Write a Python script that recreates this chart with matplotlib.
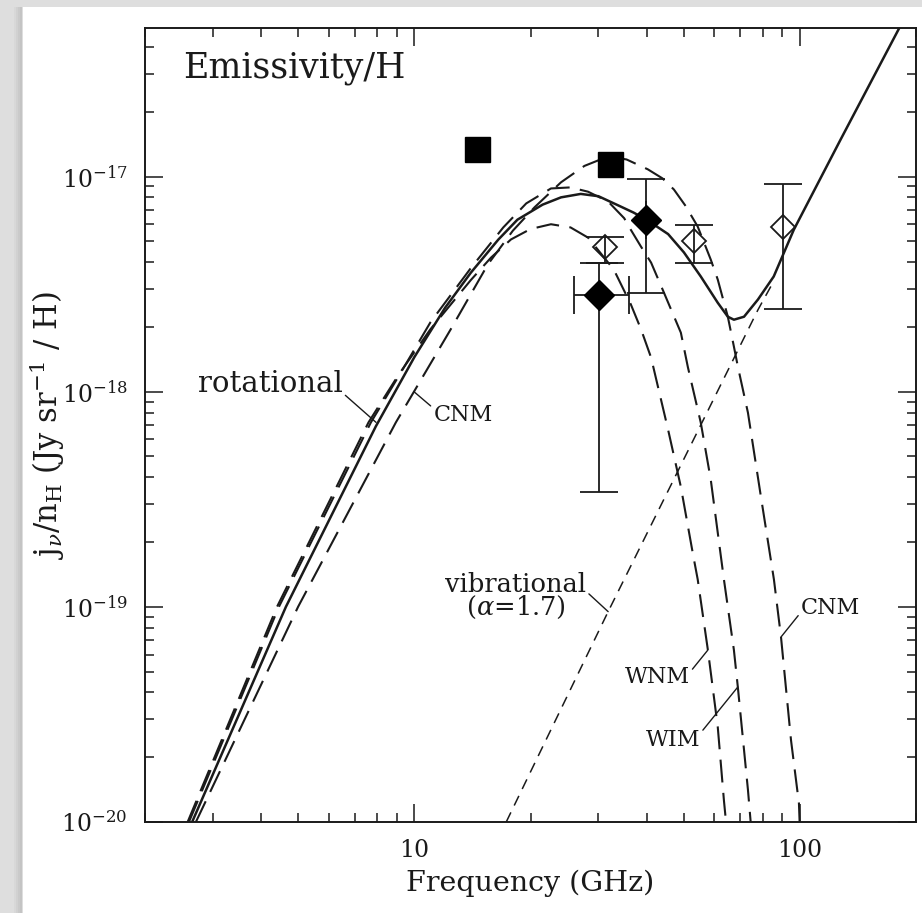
import matplotlib
matplotlib.use('Agg')
import matplotlib.pyplot as plt
import numpy as np
from matplotlib.patches import Rectangle
from matplotlib.ticker import FuncFormatter, LogLocator, NullFormatter, FixedLocator

plt.rcParams['font.family'] = 'DejaVu Serif'
plt.rcParams['mathtext.fontset'] = 'dejavuserif'

# total emission (solid line)
solid_f = [2.65, 4.64, 7.94, 10.0, 12.0, 14.0, 16.5, 18.5, 21.5, 24.0, 27.0, 30.0, 34.0,
           37.0, 40.0, 45.5, 50.0, 55.3, 61.2, 65.0, 67.4, 71.6, 77.8, 85.5, 96.4, 127.6, 181.0]
solid_j = [1.0e-20, 1.0e-19, 6.9e-19, 1.45e-18, 2.45e-18, 3.57e-18, 5.09e-18, 6.3e-18,
           7.4e-18, 8.0e-18, 8.3e-18, 8.1e-18, 7.3e-18, 6.8e-18, 6.3e-18, 5.4e-18,
           4.44e-18, 3.43e-18, 2.59e-18, 2.23e-18, 2.16e-18, 2.23e-18, 2.68e-18, 3.43e-18,
           5.66e-18, 1.49e-17, 4.9e-17]

# rotational emission, CNM
cnm_f = [2.71, 4.99, 8.95, 12.4, 15.5, 18.0, 20.5, 24.0, 27.6, 31.8, 35.5, 40.3,
         44.0, 47.1, 50.5, 54.3, 58.7, 61.2, 65.0, 67.4, 69.0, 73.3, 79.2, 85.6, 89.3,
         94.8, 99.4, 99.8]
cnm_j = [1.0e-20, 1.0e-19, 7.2e-19, 1.94e-18, 3.9e-18, 5.6e-18, 7.2e-18,
         9.4e-18, 1.12e-17, 1.24e-17, 1.2e-17, 1.08e-17, 9.8e-18, 8.7e-18, 7.3e-18,
         5.85e-18, 4.11e-18, 3.32e-18, 2.23e-18, 1.62e-18, 1.31e-18, 7.98e-19, 3.25e-19,
         1.34e-19, 7.24e-20, 2.4e-20, 1.22e-20, 1.0e-20]

# rotational emission, WIM
wim_f = [2.6, 4.45, 7.71, 9.2, 11.0, 14.0, 17.0, 19.5, 22.6, 25.4, 28.2, 31.8, 35.0,
         36.4, 38.7, 41.1, 44.4, 49.1, 51.2, 55.3, 58.7, 63.5, 67.4, 69.0, 73.3, 74.5]
wim_j = [1.0e-20, 1.0e-19, 7.2e-19, 1.22e-18, 2.1e-18, 3.75e-18, 5.8e-18, 7.5e-18,
         8.8e-18, 8.9e-18, 8.5e-18, 7.65e-18, 6.4e-18, 5.66e-18, 4.72e-18, 3.98e-18,
         2.88e-18, 1.88e-18, 1.3e-18, 7.18e-19, 3.9e-19, 1.34e-19, 6.3e-20, 4.24e-20,
         1.41e-20, 1.0e-20]

# rotational emission, WNM
wnm_f = [2.58, 4.4, 7.6, 9.1, 11.0, 14.0, 15.8, 17.8, 20.0, 22.6, 25.4, 28.2, 29.9,
         32.9, 36.4, 38.7, 41.1, 45.5, 49.1, 52.8, 54.3, 57.7, 61.2, 63.5, 64.3]
wnm_j = [1.0e-20, 1.0e-19, 7.2e-19, 1.2e-18, 1.95e-18, 3.3e-18, 4.2e-18, 5.1e-18, 5.7e-18,
         6.0e-18, 5.8e-18, 5.2e-18, 4.57e-18, 3.69e-18, 2.55e-18, 1.95e-18, 1.44e-18,
         6.65e-19, 3.61e-19, 1.75e-19, 1.34e-19, 6.3e-20, 2.77e-20, 1.26e-20, 1.0e-20]

# vibrational emission (alpha = 1.7)
vib_f = [17.3, 31.8, 77.8, 85.0]
vib_j = [1.0e-20, 9.5e-20, 2.4e-18, 3.2e-18]

# measurements
sq_f = [14.5, 32.1]
sq_j = [1.34e-17, 1.14e-17]

fd_f = [30.1, 39.9]
fd_j = [2.8e-18, 6.3e-18]
fd_jlo = [3.4e-19, 2.88e-18]
fd_jhi = [3.98e-18, 9.7e-18]
fd_flo = [25.9, 39.9]
fd_fhi = [36.0, 39.9]

od_f = [31.3, 53.1, 90.4]
od_j = [4.68e-18, 4.99e-18, 5.85e-18]
od_jlo = [3.98e-18, 3.98e-18, 2.43e-18]
od_jhi = [5.26e-18, 5.98e-18, 9.27e-18]

x_major = [10, 100]
y_major = [1e-20, 1e-19, 1e-18, 1e-17]

ink = '#1a1a1a'

fig = plt.figure(figsize=(9.22, 9.13), dpi=100)
fig.patch.set_facecolor('#dedede')
# scanned page with a soft shadow on its left edge
for i, c in enumerate(['#d8d8d8', '#d1d1d1', '#cacaca', '#c4c4c4']):
    fig.add_artist(Rectangle(((14 + 2 * i) / 922, 0), 2 / 922, 1 - 7 / 913,
                             transform=fig.transFigure, facecolor=c, edgecolor='none', zorder=0))
fig.add_artist(Rectangle((23 / 922, 0), 1, 1 - 7 / 913, transform=fig.transFigure,
                         facecolor='white', edgecolor='none', zorder=0))

ax = fig.add_axes([145 / 922, 91 / 913, 771 / 922, 794 / 913])
ax.set_facecolor('none')
ax.set_xscale('log')
ax.set_yscale('log')
ax.set_xlim(2, 200)
ax.set_ylim(1e-20, 4.9e-17)

dash = (0, (11, 5))
ax.plot(solid_f, solid_j, color=ink, lw=1.8)
ax.plot(cnm_f, cnm_j, color=ink, lw=1.5, ls=dash)
ax.plot(wim_f, wim_j, color=ink, lw=1.5, ls=dash)
ax.plot(wnm_f, wnm_j, color=ink, lw=1.5, ls=dash)
ax.plot(vib_f, vib_j, color=ink, lw=1.1, ls=(0, (7, 5)))

ax.plot(sq_f, sq_j, 's', color='black', ms=18, zorder=5)

fd_f = np.array(fd_f)
fd_j = np.array(fd_j)
ax.errorbar(fd_f, fd_j,
            yerr=[fd_j - np.array(fd_jlo), np.array(fd_jhi) - fd_j],
            xerr=[fd_f - np.array(fd_flo), np.array(fd_fhi) - fd_f],
            fmt='D', color='black', ms=15, ecolor=ink, elinewidth=1.3,
            capsize=14, capthick=1.3, zorder=5)

od_j = np.array(od_j)
ax.errorbar(od_f, od_j, yerr=[od_j - np.array(od_jlo), np.array(od_jhi) - od_j],
            fmt='D', mfc='none', mec=ink, mew=1.3, ms=12, ecolor=ink,
            elinewidth=1.3, capsize=14, capthick=1.3, zorder=5)

# labels on the curves
def leader(rel):
    return dict(arrowstyle='-', color=ink, lw=1.0, shrinkA=0, shrinkB=0, relpos=rel)

ax.annotate('rotational', xy=(7.95, 7.2e-19), xytext=(2.74, 1.08e-18), textcoords='data',
            fontsize=21, color=ink, ha='left', va='center', arrowprops=leader((1.0, 0.2)))
ax.annotate('CNM', xy=(9.97, 1.0e-18), xytext=(11.2, 7.8e-19), textcoords='data',
            fontsize=16, color=ink, ha='left', va='center', arrowprops=leader((0.0, 0.8)))
ax.annotate('vibrational\n' + r'($\alpha$=1.7)', xy=(31.8, 9.5e-20), xytext=(18.3, 1.12e-19),
            textcoords='data', fontsize=18.5, color=ink, ha='center', va='center',
            linespacing=0.85, arrowprops=leader((1.0, 0.6)))
ax.annotate('WNM', xy=(57.7, 6.3e-20), xytext=(42.6, 4.72e-20), textcoords='data',
            fontsize=16, color=ink, ha='center', va='center', arrowprops=leader((1.0, 0.7)))
ax.annotate('WIM', xy=(69.0, 4.24e-20), xytext=(46.8, 2.4e-20), textcoords='data',
            fontsize=16, color=ink, ha='center', va='center', arrowprops=leader((1.0, 0.8)))
ax.annotate('CNM', xy=(89.3, 7.24e-20), xytext=(100.6, 9.9e-20), textcoords='data',
            fontsize=16, color=ink, ha='left', va='center', arrowprops=leader((0.0, 0.3)))

ax.text(0.049, 0.95, 'Emissivity/H', transform=ax.transAxes, fontsize=25,
        ha='left', va='center', color=ink)

ax.xaxis.set_major_locator(FixedLocator(x_major))
ax.yaxis.set_major_locator(FixedLocator(y_major))
ax.xaxis.set_minor_locator(LogLocator(base=10, subs=np.arange(2, 10)))
ax.yaxis.set_minor_locator(LogLocator(base=10, subs=np.arange(2, 10)))
ax.xaxis.set_major_formatter(FuncFormatter(lambda v, p: '%d' % round(v)))
ax.yaxis.set_major_formatter(FuncFormatter(lambda v, p: r'$10^{%d}$' % round(np.log10(v))))
ax.xaxis.set_minor_formatter(NullFormatter())
ax.yaxis.set_minor_formatter(NullFormatter())
ax.tick_params(which='both', direction='in', top=True, right=True, color=ink,
               labelcolor=ink, labelsize=17, width=1.1)
ax.tick_params(which='major', length=13)
ax.tick_params(which='minor', length=6.5)
ax.tick_params(axis='x', pad=12)
ax.tick_params(axis='y', pad=12.5)
for s in ax.spines.values():
    s.set_linewidth(1.4)
    s.set_color(ink)

ax.set_xlabel('Frequency (GHz)', fontsize=20.5, color=ink, labelpad=6)
ax.set_ylabel(r'j$_\nu$/n$_\mathrm{H}$ (Jy sr$^{-1}$ / H)', fontsize=22, color=ink, labelpad=-4)

fig.savefig('out.png', dpi=100, facecolor=fig.get_facecolor())
